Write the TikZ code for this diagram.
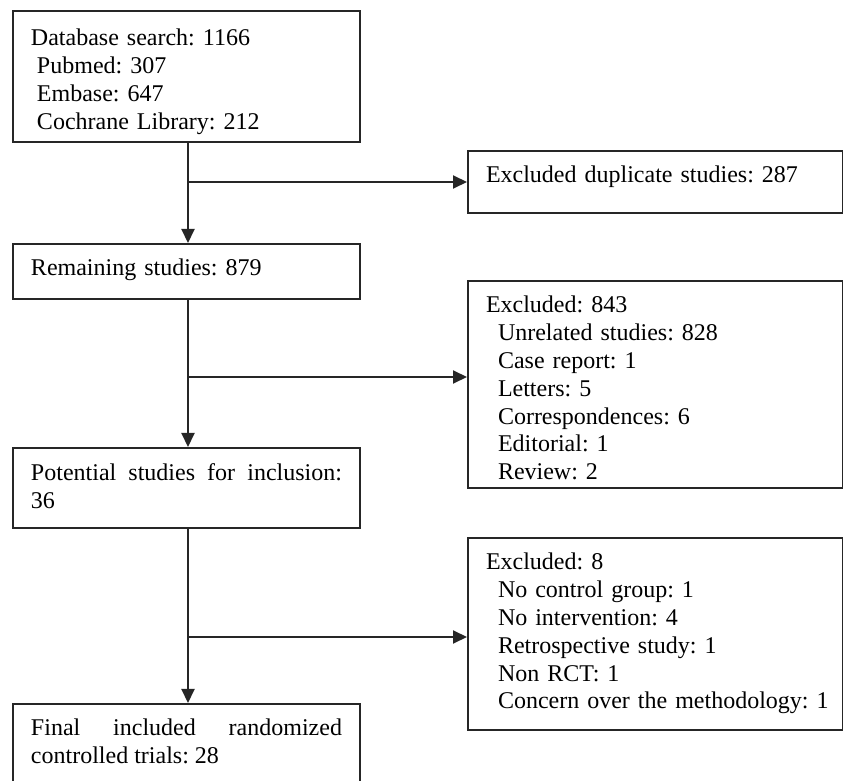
\documentclass[tikz,border=0pt]{standalone}
\usepackage{fontspec}
\setmainfont{Liberation Serif}
\usetikzlibrary{arrows.meta}
\newcommand{\indsp}[1][.5em]{\hspace*{#1}}
\hyphenpenalty=10000
\tolerance=10000
\frenchspacing
\tikzset{
  box/.style={draw=black!85, line width=1pt, anchor=north west, inner xsep=9pt, inner ysep=0pt,
    font=\fontsize{12}{13.9}\selectfont},
  leftbox/.style={box, text width=155.5pt},
  rightbox/.style={box, text width=169.5pt, align=left},
  flow/.style={draw=black!85, line width=1pt, -{Triangle[length=7pt,width=6.5pt]}}
}
\begin{document}
\begin{tikzpicture}[x=0.5pt,y=-0.5pt]
\useasboundingbox (0,0) rectangle (843,781);
\clip (0,0) rectangle (843,781);
% main column
\node[leftbox, align=left, text height=17.5pt, text depth=48pt] (search) at (12,10)
  {Database search: 1166\\ \indsp[.25em]Pubmed: 307\\ \indsp[.25em]Embase: 647\\ \indsp[.25em]Cochrane Library: 212};
\node[leftbox, align=left, text height=16pt, text depth=11.5pt] (remain) at (12,243) {Remaining studies: 879};
\node[leftbox, align=justify, text height=16.5pt, text depth=23.5pt] (potential) at (12,447) {Potential studies for inclusion: 36};
\node[leftbox, align=justify, text height=16pt, text depth=40pt] (final) at (12,703) {Final included randomized controlled trials: 28};
% exclusions
\node[rightbox, text height=16pt, text depth=15pt] (dup) at (467,150) {Excluded duplicate studies: 287};
\node[rightbox, text height=16pt, text depth=87.5pt] (excla) at (467,280)
  {Excluded: 843\\ \indsp Unrelated studies: 828\\ \indsp Case report: 1\\ \indsp Letters: 5\\
   \indsp Correspondences: 6\\ \indsp Editorial: 1\\ \indsp Review: 2};
\node[rightbox, text height=16pt, text depth=80pt] (exclb) at (467,537)
  {Excluded: 8\\ \indsp No control group: 1\\ \indsp No intervention: 4\\ \indsp Retrospective study: 1\\
   \indsp Non RCT: 1\\ \indsp\mbox{Concern over the methodology: 1}};
% arrows
\coordinate (br1) at (188,182);
\coordinate (br2) at (188,377);
\coordinate (br3) at (188,637);
\draw[flow] (search.south -| br1) -- (remain.north -| br1);
\draw[flow] (remain.south -| br2) -- (potential.north -| br2);
\draw[flow] (potential.south -| br3) -- (final.north -| br3);
\draw[flow] (br1) -- (br1 -| dup.west);
\draw[flow] (br2) -- (br2 -| excla.west);
\draw[flow] (br3) -- (br3 -| exclb.west);
\end{tikzpicture}
\end{document}
